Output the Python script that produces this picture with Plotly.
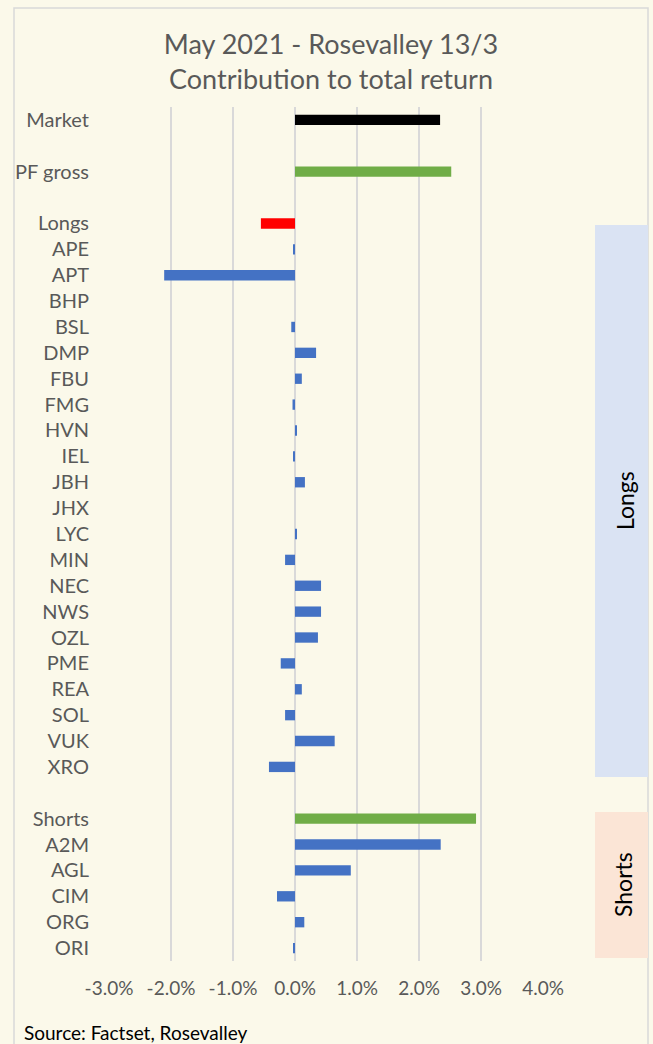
import plotly.graph_objects as go

# ---- data ----
labels = ["Market", "", "PF gross", "", "Longs",
          "APE", "APT", "BHP", "BSL", "DMP", "FBU", "FMG", "HVN", "IEL", "JBH",
          "JHX", "LYC", "MIN", "NEC", "NWS", "OZL", "PME", "REA", "SOL", "VUK", "XRO",
          "", "Shorts", "A2M", "AGL", "CIM", "ORG", "ORI"]
values_pct = [2.34, None, 2.52, None, -0.55,
              -0.03, -2.11, 0.00, -0.06, 0.34, 0.11, -0.04, 0.03, -0.03, 0.16,
              0.00, 0.02, -0.16, 0.42, 0.42, 0.37, -0.23, 0.11, -0.16, 0.64, -0.42,
              None, 2.92, 2.35, 0.90, -0.29, 0.15, -0.02]
x_ticks = [-0.03, -0.02, -0.01, 0.0, 0.01, 0.02, 0.03, 0.04]
x_tick_labels = ["-3.0%", "-2.0%", "-1.0%", "0.0%", "1.0%", "2.0%", "3.0%", "4.0%"]

# ---- styling ----
special_colors = {"Market": "#000000", "PF gross": "#70AD47", "Longs": "#FF0000", "Shorts": "#70AD47"}
default_color = "#4472C4"
colors = [special_colors.get(l, default_color) for l in labels]
values = [None if v is None else v / 100 for v in values_pct]
ypos = list(range(len(labels)))

BG = "#FBF9EA"
TXT = "#595959"
FONT = "Lato"

fig = go.Figure()
fig.add_trace(go.Bar(
    x=values, y=ypos, orientation="h",
    marker=dict(color=colors, line=dict(width=0)),
    width=0.4, showlegend=False, hoverinfo="skip"))

W, H = 653, 1044
L, R, T, B = 109, 110, 107, 83
pw, ph = W - L - R, H - T - B

def px(xp):
    return (xp - L) / pw

def py(yp):
    return (H - B - yp) / ph

shapes = [
    # outer border
    dict(type="rect", xref="paper", yref="paper", x0=px(14), x1=px(648), y0=py(1060), y1=py(8),
         line=dict(color="#D9D9D9", width=1.5), fillcolor="rgba(0,0,0,0)", layer="below"),
    # Longs box
    dict(type="rect", xref="paper", yref="paper", x0=px(595), x1=px(648), y0=py(777), y1=py(225),
         line=dict(width=0), fillcolor="#DAE3F3", layer="below"),
    # Shorts box
    dict(type="rect", xref="paper", yref="paper", x0=px(595), x1=px(648), y0=py(958), y1=py(812),
         line=dict(width=0), fillcolor="#FBE5D6", layer="below"),
]

annotations = [
    dict(text="Longs", xref="paper", yref="paper", x=px(625), y=py(501), textangle=-90,
         showarrow=False, font=dict(family=FONT, size=23, color="#000000"),
         xanchor="center", yanchor="middle"),
    dict(text="Shorts", xref="paper", yref="paper", x=px(623), y=py(885), textangle=-90,
         showarrow=False, font=dict(family=FONT, size=23, color="#000000"),
         xanchor="center", yanchor="middle"),
    dict(text="Source: Factset, Rosevalley", xref="paper", yref="paper", x=px(22), y=py(1032),
         showarrow=False, font=dict(family=FONT, size=19, color="#000000"),
         xanchor="left", yanchor="middle"),
]

fig.update_layout(
    width=W, height=H,
    margin=dict(l=L, r=R, t=T, b=B),
    paper_bgcolor=BG, plot_bgcolor=BG,
    font=dict(family=FONT, color=TXT),
    title=dict(text="May 2021 - Rosevalley 13/3<br>Contribution to total return",
               x=331 / W, xanchor="center", y=1 - 54 / H, yanchor="middle",
               font=dict(family=FONT, size=27, color=TXT)),
    shapes=shapes, annotations=annotations,
    bargap=0.6,
)
fig.update_xaxes(range=[-0.03, 0.04], tickvals=x_ticks, ticktext=x_tick_labels,
                 showgrid=True, gridcolor="#D9D9D9", gridwidth=2,
                 zeroline=True, zerolinecolor="#D9D9D9", zerolinewidth=2,
                 showline=False, ticks="", ticklabelstandoff=14,
                 tickfont=dict(family=FONT, size=19, color=TXT), fixedrange=True)
fig.update_yaxes(range=[len(labels) - 0.5, -0.5], tickvals=ypos, ticktext=labels,
                 showgrid=False, zeroline=False, showline=False, ticks="",
                 ticklabelstandoff=19,
                 tickfont=dict(family=FONT, size=20, color=TXT), fixedrange=True)

fig.write_html("out.html",
               config={"displayModeBar": False},
               post_script="document.body.style.margin='0';document.body.style.background='%s';" % BG)
